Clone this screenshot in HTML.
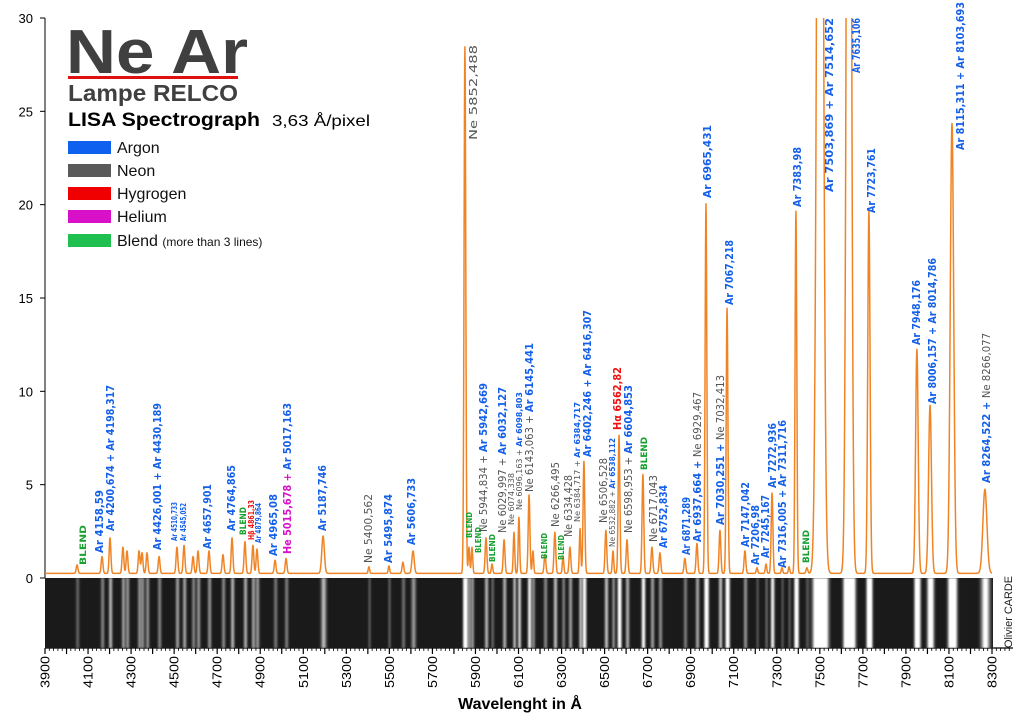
<!DOCTYPE html>
<html><head><meta charset="utf-8"><style>
html,body{margin:0;padding:0;background:#fff;}
svg{display:block;font-family:"Liberation Sans",sans-serif;}
</style></head><body>
<svg id="chart" width="1024" height="722" viewBox="0 0 1024 722" xmlns="http://www.w3.org/2000/svg">
<defs>
<clipPath id="plotClip"><rect x="45" y="18" width="960" height="562"/></clipPath>
<clipPath id="stripClip"><rect x="45" y="578" width="948" height="70"/></clipPath>
<filter id="blur1"><feGaussianBlur stdDeviation="0.9"/></filter>
</defs>
<g id="legend">
<text x="66" y="73" font-size="62" font-weight="bold" fill="#404040" textLength="182" lengthAdjust="spacingAndGlyphs">Ne Ar</text>
<rect x="68" y="76" width="170" height="3" fill="#e01010"/>
<text x="68" y="101" font-size="23" font-weight="bold" fill="#404040" textLength="170" lengthAdjust="spacingAndGlyphs">Lampe RELCO</text>
<text x="68" y="126" font-size="19" font-weight="bold" fill="#000" textLength="192" lengthAdjust="spacingAndGlyphs">LISA Spectrograph</text>
<text x="272" y="126" font-size="16" fill="#000" textLength="98" lengthAdjust="spacingAndGlyphs">3,63 Å/pixel</text>
<g><rect x="68" y="141" width="43" height="13" fill="#1060f0"/><text x="117" y="153" font-size="16" fill="#111">Argon</text></g>
<g><rect x="68" y="164" width="43" height="13" fill="#5a5a5a"/><text x="117" y="176" font-size="16" fill="#111">Neon</text></g>
<g><rect x="68" y="187" width="43" height="13" fill="#f00000"/><text x="117" y="199" font-size="16" fill="#111">Hygrogen</text></g>
<g><rect x="68" y="210" width="43" height="13" fill="#d810c8"/><text x="117" y="222" font-size="16" fill="#111">Helium</text></g>
<g><rect x="68" y="234" width="43" height="13" fill="#20c050"/><text x="117" y="246" font-size="16" fill="#111">Blend <tspan font-size="12">(more than 3 lines)</tspan></text></g>
</g>
<g id="axes"></g>
<g id="strip" clip-path="url(#stripClip)"></g>
<g id="plot" clip-path="url(#plotClip)"></g>
<g id="labels"></g>
<text x="520" y="709" font-size="16" font-weight="bold" text-anchor="middle" fill="#000">Wavelenght in Å</text>
<text transform="translate(1012,648) rotate(-90)" font-size="11" fill="#222" textLength="72" lengthAdjust="spacingAndGlyphs">Olivier CARDE</text>
</svg>
<script>
// ---- data ----
const peakWavelengths = [4049,4165,4202,4262,4281,4337,4351,4374,4430,4513,4546,4588,4611,4662,4727,4769,4829,4866,4885,4969,5020,5192,5405,5498,5563,5610,
5851,5870,5884,5949,5977,6033,6079,6102,6149,6167,6223,6269,6307,6339,6386,6404,6506,6539,6567,6604,6678,6720,6757,6873,6929,6971,7036,7069,7152,7208,7250,7278,7324,7357,7389,7440,7501,7635,7728,7951,8012,8114,8267];
const peakHeights = [0.45,0.9,1.9,1.4,1.2,1.2,1.1,1.1,0.9,1.4,1.5,0.9,1.2,1.2,1.0,1.9,1.7,1.5,1.3,0.7,0.8,2.0,0.35,0.4,0.6,1.2,
28.2,1.4,1.4,1.9,0.5,1.8,2.2,3.0,4.2,1.2,1.0,2.2,0.9,1.4,2.4,6.0,2.3,1.2,7.4,1.8,5.3,1.4,1.1,0.8,1.6,19.8,2.3,14.2,1.2,0.3,0.5,4.3,0.3,0.35,19.4,0.3,80,80,19.4,12.0,9.0,24.1,4.5];
const peakWidths = [6,6,6,6,6,6,6,6,6,6,6,6,6,6,6,6,6,6,6,6,6,9,5,5,6,8,
6,5,5,6,5,6,5,5,6,5,6,6,5,6,5,6,6,5,6,6,6,6,6,6,6,6,6,6,6,5,5,6,5,5,6,6,18,14,8,9,10,12,14];
const xTickValues = [3900,4100,4300,4500,4700,4900,5100,5300,5500,5700,5900,6100,6300,6500,6700,6900,7100,7300,7500,7700,7900,8100,8300];
const yTickValues = [0,5,10,15,20,25,30];
const baseline = 0.25;

// label layout: [x px, bottom px, top px, font size, segments]
const B='#1560e8',G='#555',R='#f01010',M='#d810c8',GR='#18a030';
const labels = [
[83,565,525,9,[['BLEND',GR]]],
[99,553,490,11,[['Ar 4158,59',B]]],
[110,531,385,11,[['Ar 4200,674 + Ar 4198,317',B]]],
[157,550,403,11,[['Ar 4426,001 + Ar 4430,189',B]]],
[174,541,502,8,[['Ar 4510,733',B]]],
[183,541,503,8,[['Ar 4545,052',B]]],
[207,549,484,11,[['Ar 4657,901',B]]],
[231,531,465,11,[['Ar 4764,865',B]]],
[243,535,507,9,[['BLEND',GR]]],
[251,540,500,8,[['Hβ 4861,33',R]]],
[258,543,503,8,[['Ar 4879,864',B]]],
[273,556,494,11,[['Ar 4965,08',B]]],
[287,554,403,11,[['He 5015,678 + ',M],['Ar 5017,163',B]]],
[322,531,465,11,[['Ar 5187,746',B]]],
[368,563,494,11,[['Ne 5400,562',G]]],
[388,563,494,11,[['Ar 5495,874',B]]],
[411,545,478,11,[['Ar 5606,733',B]]],
[473,140,45,11,[['Ne 5852,488',G]]],
[469,538,512,8,[['BLEND',GR]]],
[478,553,527,8,[['BLEND',GR]]],
[483,532,383,11,[['Ne 5944,834 + ',G],['Ar 5942,669',B]]],
[492,562,534,8,[['BLEND',GR]]],
[502,533,387,11,[['Ne 6029,997 + ',G],['Ar 6032,127',B]]],
[511,525,473,8,[['Ne 6074,338',G]]],
[519,510,392,8,[['Ne 6096,163 + ',G],['Ar 6098,803',B]]],
[529,492,343,11,[['Ne 6143,063 + ',G],['Ar 6145,441',B]]],
[544,559,533,8,[['BLEND',GR]]],
[555,527,462,11,[['Ne 6266,495',G]]],
[561,560,535,8,[['BLEND',GR]]],
[568,537,475,11,[['Ne 6334,428',G]]],
[577,522,402,8,[['Ne 6384,717 + ',G],['Ar 6384,717',B]]],
[587,457,310,11,[['Ar 6402,246 + Ar 6416,307',B]]],
[603,523,458,11,[['Ne 6506,528',G]]],
[612,547,438,8,[['Ne 6532,882 + ',G],['Ar 6538,112',B]]],
[617,430,367,11,[['Hα 6562,82',R]]],
[628,533,385,11,[['Ne 6598,953 + ',G],['Ar 6604,853',B]]],
[644,470,437,9,[['BLEND',GR]]],
[653,542,475,11,[['Ne 6717,043',G]]],
[663,548,485,11,[['Ar 6752,834',B]]],
[686,555,497,11,[['Ar 6871,289',B]]],
[697,542,392,11,[['Ar 6937,664 + ',B],['Ne 6929,467',G]]],
[707,198,125,11,[['Ar 6965,431',B]]],
[720,525,375,11,[['Ar 7030,251 + ',B],['Ne 7032,413',G]]],
[729,305,240,11,[['Ar 7067,218',B]]],
[745,547,482,11,[['Ar 7147,042',B]]],
[755,565,505,11,[['Ar 7206,98',B]]],
[765,558,495,11,[['Ar 7245,167',B]]],
[772,488,423,11,[['Ar 7272,936',B]]],
[782,568,420,11,[['Ar 7316,005 + Ar 7311,716',B]]],
[797,207,147,11,[['Ar 7383,98',B]]],
[806,563,530,9,[['BLEND',GR]]],
[829,192,18,11,[['Ar 7503,869 + Ar 7514,652',B]]],
[856,73,18,11,[['Ar 7635,106',B]]],
[871,213,148,11,[['Ar 7723,761',B]]],
[916,345,280,11,[['Ar 7948,176',B]]],
[932,404,258,11,[['Ar 8006,157 + Ar 8014,786',B]]],
[960,150,2,11,[['Ar 8115,311 + Ar 8103,693',B]]],
[986,483,333,11,[['Ar 8264,522 + ',B],['Ne 8266,077',G]]]
];

// ---- scales ----
const X0=45, PXA=0.21523, Y0=578, PYU=18.667;
const xs = w => X0 + (w-3900)*PXA;
const ys = v => Y0 - v*PYU;
const NS='http://www.w3.org/2000/svg';
function mk(tag, attrs, parent){const e=document.createElementNS(NS,tag);for(const k in attrs)e.setAttribute(k,attrs[k]);parent.appendChild(e);return e;}
function intensity(w){let s=baseline;for(let i=0;i<peakWavelengths.length;i++){const d=(w-peakWavelengths[i])/peakWidths[i]*1.5;if(Math.abs(d)<8)s+=peakHeights[i]*Math.exp(-d*d/2);}return s;}

// ---- axes ----
const axes=document.getElementById('axes');
const yAxis=mk('line',{x1:45,y1:18,x2:45,y2:578,stroke:'#000','stroke-width':1},axes);


yTickValues.forEach(v=>{
  const t=mk('line',{x1:40,y1:ys(v),x2:45,y2:ys(v),stroke:'#000'},axes);
  
  
  const l=mk('text',{x:33,y:ys(v)+5,'font-size':13,'text-anchor':'end',fill:'#000'},axes);
  l.textContent=v;
  
  
});
const xAxis=mk('line',{x1:45,y1:648,x2:1013,y2:648,stroke:'#000','stroke-width':1.2},axes);


for(let w=3900;w<=8390;w+=20){
  const major=(w%100===0);
  const t=mk('line',{x1:xs(w),y1:648,x2:xs(w),y2:major?654:651,stroke:'#000','stroke-width':major?1.2:0.8},axes);
  
  
}
xTickValues.forEach(w=>{
  const l=mk('text',{transform:`translate(${xs(w)+4.5},688) rotate(-90)`,'font-size':12.5,fill:'#000',textLength:32,lengthAdjust:'spacingAndGlyphs'},axes);
  l.textContent=w;
  
  
});

// ---- spectrum strip ----
const strip=document.getElementById('strip');
const bg=mk('rect',{x:45,y:578,width:948,height:70,fill:'#1a1a1a'},strip);


const sg=mk('g',{filter:'url(#blur1)'},strip);
for(let px=45;px<993;px+=1){
  const w=3900+(px-45)/PXA;
  const v=intensity(w)-baseline;
  const a=Math.min(1,Math.pow(Math.max(0,v)/4,0.55));
  if(a>0.04){
    const r=mk('rect',{x:px,y:578,width:1.2,height:70,fill:'#fff','fill-opacity':a.toFixed(3)},sg);
    
    
  }
}

// ---- spectrum curve ----
const plot=document.getElementById('plot');
let d='';
for(let w=3900;w<=8300;w+=1){d+=(w===3900?'M':'L')+xs(w).toFixed(2)+','+ys(intensity(w)).toFixed(2);}
const curve=mk('path',{d:d,fill:'none',stroke:'#f08424','stroke-width':1.5,'stroke-linejoin':'round'},plot);



// ---- labels ----
const lg=document.getElementById('labels');
labels.forEach(L=>{
  const [x,yb,yt,fs,segs]=L;
  const t=mk('text',{transform:`translate(${x+fs*0.36},${yb}) rotate(-90)`,'font-size':fs,'font-family':'DejaVu Sans, Liberation Sans, sans-serif',textLength:yb-yt,lengthAdjust:'spacingAndGlyphs'},lg);
  
  
  segs.forEach(s=>{const sp=mk('tspan',{fill:s[1],'font-weight':(s[1]===G?'normal':'bold')},t);sp.textContent=s[0];});
});
</script>
</body></html>
